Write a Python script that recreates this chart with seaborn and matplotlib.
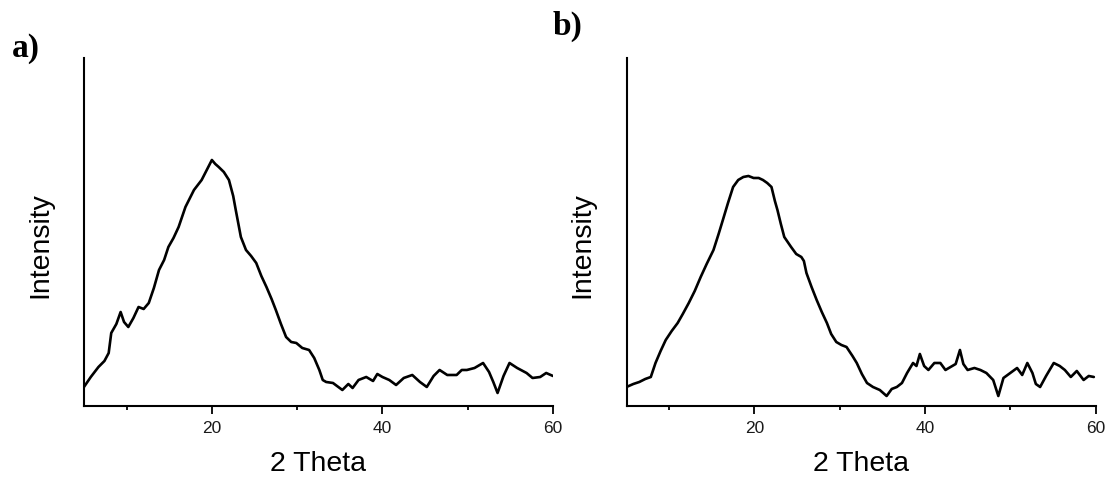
import seaborn as sns
import matplotlib.pyplot as plt

# pattern a) : 2 theta vs intensity (arb. units, read from picture)
theta_a = [5.0, 5.8, 6.7, 7.4, 7.9, 8.2, 8.8, 9.3, 9.7, 10.2, 10.8, 11.4, 12.0, 12.6,
           13.2, 13.8, 14.4, 14.9, 15.5, 16.1, 16.9, 17.9, 18.8, 19.4, 20.0, 20.4,
           20.8, 21.4, 22.0, 22.5, 22.8, 23.4, 24.0, 24.6, 25.2, 25.8, 26.4, 27.0,
           27.5, 28.1, 28.7, 29.3, 29.9, 30.6, 31.4, 32.0, 32.6, 33.0, 33.4, 34.2,
           35.3, 36.0, 36.5, 37.2, 38.1, 38.9, 39.4, 40.0, 40.8, 41.6, 42.5, 43.5,
           44.4, 45.2, 46.0, 46.7, 47.6, 48.7, 49.3, 49.9, 50.8, 51.8, 52.5, 53.0,
           53.5, 54.2, 54.9, 55.8, 56.9, 57.6, 58.5, 59.2, 60.0]
int_a = [19, 29, 39, 45, 53, 73, 82, 94, 84, 79, 88, 99, 97, 103,
         118, 136, 146, 159, 168, 179, 199, 216, 226, 236, 246, 242,
         239, 234, 226, 210, 196, 169, 156, 150, 143, 130, 119, 107,
         96, 82, 69, 64, 63, 58, 56, 48, 36, 26, 24, 23,
         16, 22, 18, 26, 29, 25, 32, 29, 26, 21, 28, 31,
         24, 19, 30, 36, 31, 31, 36, 36, 38, 43, 34, 24,
         13, 30, 43, 38, 33, 28, 29, 33, 30]

# pattern b)
theta_b = [5.0, 5.8, 6.5, 7.2, 7.85, 8.4, 9.0, 9.6, 10.3, 11.0, 11.6, 12.3, 13.0, 13.7,
           14.4, 15.2, 15.8, 16.3, 16.9, 17.5, 18.1, 18.7, 19.3, 19.9, 20.5, 21.0,
           21.5, 22.0, 22.4, 22.7, 23.1, 23.5, 24.3, 24.9, 25.5, 25.8, 26.1, 26.7,
           27.3, 27.9, 28.5, 29.0, 29.6, 30.2, 30.8, 31.5, 32.0, 32.6, 33.2, 33.9,
           34.7, 35.5, 36.1, 36.7, 37.3, 37.9, 38.6, 39.0, 39.4, 39.9, 40.4, 41.1,
           41.8, 42.4, 43.0, 43.6, 44.1, 44.5, 45.0, 45.8, 46.5, 47.2, 48.0, 48.6,
           49.2, 50.0, 50.8, 51.4, 52.0, 52.6, 53.0, 53.5, 54.2, 55.1, 55.8, 56.4,
           57.1, 57.8, 58.6, 59.2, 59.8]
int_b = [19, 22, 24, 27, 29, 43, 55, 66, 75, 83, 92, 103, 115, 129,
         142, 156, 172, 186, 203, 219, 226, 229, 230, 228, 228, 226,
         223, 219, 205, 196, 182, 169, 159, 152, 149, 145, 133, 119,
         106, 94, 83, 72, 64, 61, 59, 50, 43, 32, 23, 19,
         16, 10, 17, 19, 23, 33, 43, 40, 52, 40, 36, 43,
         43, 36, 39, 42, 56, 42, 36, 38, 36, 33, 26, 10,
         28, 33, 38, 31, 43, 33, 22, 19, 30, 43, 40, 36,
         29, 35, 26, 30, 29]

sns.set_style("ticks")
plt.rcParams['font.family'] = ['Liberation Sans', 'DejaVu Sans']
plt.rcParams['text.color'] = 'black'
plt.rcParams['axes.labelcolor'] = 'black'

fig = plt.figure(figsize=(11.12, 4.82), dpi=100)
ax_a = fig.add_axes([0.0755, 0.1577, 0.4218, 0.722])
ax_b = fig.add_axes([0.5634, 0.1577, 0.4218, 0.722])

for ax, x, y in [(ax_a, theta_a, int_a), (ax_b, theta_b, int_b)]:
    sns.lineplot(x=x, y=y, ax=ax, color='black', linewidth=1.9, sort=False)
    ax.set_xlim(5, 60)
    ax.set_ylim(0, 348)
    ax.set_xticks([20, 40, 60])
    ax.set_xticks([10, 30, 50], minor=True)
    ax.set_yticks([])
    ax.tick_params(axis='x', which='major', length=6, width=1.3, direction='out',
                   labelsize=12.5, labelcolor='#1a1a1a', color='black', pad=5)
    ax.tick_params(axis='x', which='minor', length=3, width=1.3, direction='out',
                   color='black')
    for s in ['top', 'right']:
        ax.spines[s].set_visible(False)
    for s in ['left', 'bottom']:
        ax.spines[s].set_linewidth(1.5)
        ax.spines[s].set_color('black')
    ax.set_xlabel('2 Theta', fontsize=20.5, color='black')
    ax.set_ylabel('Intensity', fontsize=20.5, color='black')
    ax.xaxis.set_label_coords(0.5, -0.13)
    ax.yaxis.set_label_coords(-0.066, 0.463)

fig.text(12 / 1112, 1 - 57 / 482, 'a)', family='Liberation Serif', weight='bold',
         fontsize=24, va='baseline', ha='left', color='black')
fig.text(553 / 1112, 1 - 35 / 482, 'b)', family='Liberation Serif', weight='bold',
         fontsize=24, va='baseline', ha='left', color='black')

plt.savefig('out.png', dpi=100)
